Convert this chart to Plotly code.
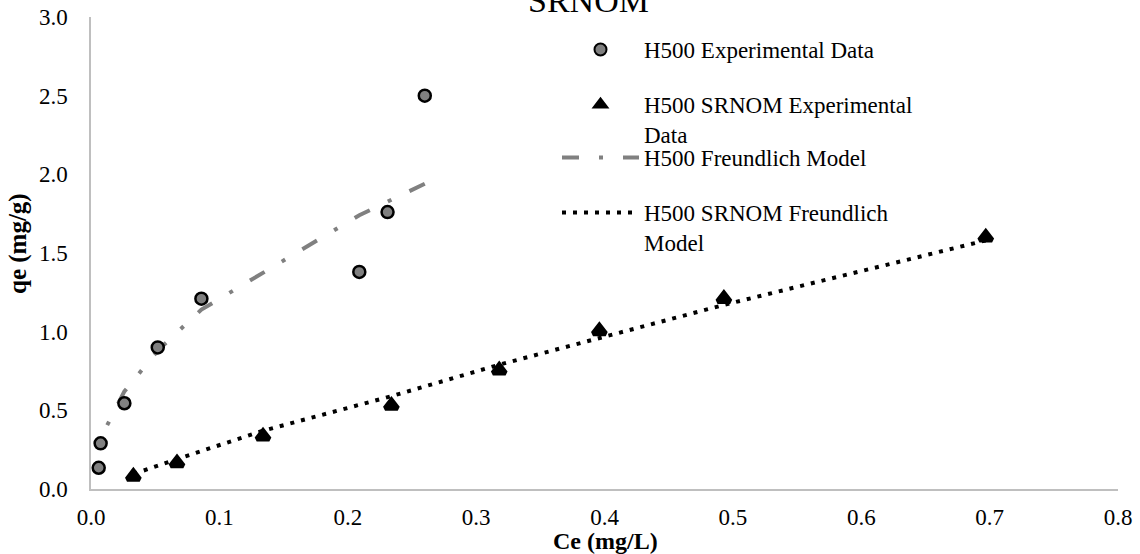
import plotly.graph_objects as go

# Equilibrium concentration Ce (mg/L) and uptake qe (mg/g)
ce_h500 = [0.006, 0.0075, 0.026, 0.052, 0.086, 0.209, 0.231, 0.26]
qe_h500 = [0.135, 0.29, 0.545, 0.90, 1.21, 1.38, 1.76, 2.50]
qe_h500_model = [0.30, 0.33, 0.62, 0.88, 1.14, 1.74, 1.83, 1.94]

ce_srnom = [0.033, 0.067, 0.134, 0.234, 0.318, 0.396, 0.493, 0.697]
qe_srnom = [0.08, 0.165, 0.335, 0.53, 0.755, 1.005, 1.21, 1.60]
qe_srnom_model = [0.095, 0.19, 0.37, 0.59, 0.79, 0.96, 1.17, 1.58]

x_ticks = [0.0, 0.1, 0.2, 0.3, 0.4, 0.5, 0.6, 0.7, 0.8]
y_ticks = [0.0, 0.5, 1.0, 1.5, 2.0, 2.5, 3.0]

FONT = "Liberation Serif, Times New Roman, serif"
W, H = 1140, 554

fig = go.Figure()

# Freundlich model curves first so the measured points sit on top.
# The H500 curve is traced from its high end so the dash pattern
# starts with a full dash at the last point.
fig.add_trace(go.Scatter(
    x=ce_h500[::-1], y=qe_h500_model[::-1], mode="lines",
    name="H500 Freundlich Model",
    line=dict(color="#808080", width=4, dash="17px,20px,4px,20px"),
    legend="legend3"))
fig.add_trace(go.Scatter(
    x=ce_srnom, y=qe_srnom_model, mode="lines", name="H500 SRNOM Freundlich<br>Model",
    line=dict(color="black", width=4, dash="4px,7px"),
    legend="legend4"))
fig.add_trace(go.Scatter(
    x=ce_h500, y=qe_h500, mode="markers", name="H500 Experimental Data",
    marker=dict(symbol="circle", size=12, color="#808080",
                line=dict(color="black", width=2.5)),
    legend="legend"))
fig.add_trace(go.Scatter(
    x=ce_srnom, y=qe_srnom, mode="markers", name="H500 SRNOM Experimental<br>Data",
    marker=dict(symbol="triangle-up", size=11, color="black",
                line=dict(color="black", width=5)),
    legend="legend2"))


def legend_at(top_px, sizing="trace"):
    return dict(
        xref="container", yref="container",
        x=557 / W, y=1 - top_px / H, xanchor="left", yanchor="top",
        itemwidth=77, valign="top", bgcolor="rgba(0,0,0,0)",
        itemsizing=sizing,
        font=dict(family=FONT, size=23, color="black"),
    )


plot_l, plot_r, plot_t, plot_b = 91, 1118, 17, 489
pw, ph = plot_r - plot_l, plot_b - plot_t

fig.update_layout(
    width=W, height=H,
    margin=dict(l=plot_l, r=W - plot_r, t=plot_t, b=H - plot_b, autoexpand=False),
    paper_bgcolor="white", plot_bgcolor="white",
    font=dict(family=FONT, color="black"),
    showlegend=True,
    legend=legend_at(28, "constant"),
    legend2=legend_at(83, "constant"),
    legend3=legend_at(136),
    legend4=legend_at(191),
    xaxis=dict(
        range=[0, 0.8], tickvals=x_ticks, tickformat=".1f",
        showline=True, linecolor="#bfbfbf", linewidth=1.5,
        showgrid=False, zeroline=False, ticks="",
        tickfont=dict(family=FONT, size=23, color="black"),
        ticklabelstandoff=7,
    ),
    yaxis=dict(
        range=[0, 3.0], tickvals=y_ticks, tickformat=".1f",
        showline=True, linecolor="#bfbfbf", linewidth=1.5,
        showgrid=False, zeroline=False, ticks="",
        tickfont=dict(family=FONT, size=23, color="black"),
        ticklabelstandoff=17,
    ),
    annotations=[
        dict(text="SRNOM", xref="paper", yref="paper",
             x=(588 - plot_l) / pw, y=(plot_b - 21) / ph,
             xanchor="center", yanchor="bottom", showarrow=False,
             font=dict(family=FONT, size=34, color="black")),
        dict(text="<b>Ce (mg/L)</b>", xref="paper", yref="paper",
             x=(605 - plot_l) / pw, y=(plot_b - 541) / ph,
             xanchor="center", yanchor="middle", showarrow=False,
             font=dict(family=FONT, size=24, color="black")),
        dict(text="<b>qe (mg/g)</b>", xref="paper", yref="paper",
             x=(18 - plot_l) / pw, y=(plot_b - 244) / ph, textangle=-90,
             xanchor="center", yanchor="middle", showarrow=False,
             font=dict(family=FONT, size=25, color="black")),
    ],
)

fig.write_html("out.html")
